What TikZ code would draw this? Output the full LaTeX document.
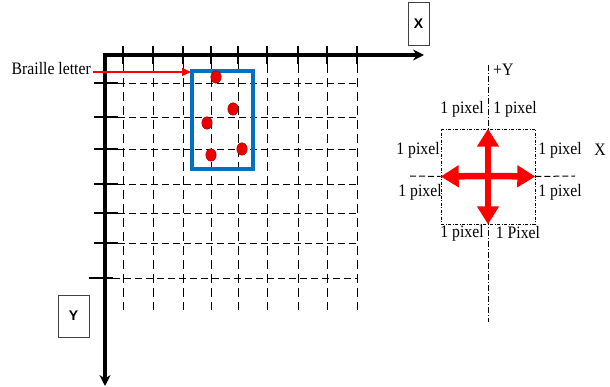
\documentclass[tikz,border=0pt]{standalone}
\usepackage{fontspec}
\setmainfont{Liberation Serif}
\newfontfamily\lblfont{Liberation Serif}[FakeStretch=0.9]
\newfontfamily\axfont{Liberation Sans}
\usetikzlibrary{arrows.meta,shapes.geometric}
\definecolor{boxblue}{RGB}{0,112,192}
\definecolor{dotred}{RGB}{235,0,0}
\begin{document}
\begin{tikzpicture}[x=1pt,y=-1pt,
  axisline/.style={line width=3.4pt, line join=miter},
  tickmark/.style={line width=2.8pt},
  vgrid/.style={line width=0.9pt, dash pattern=on 9pt off 5pt},
  hgrid/.style={line width=0.9pt, dash pattern=on 7pt off 4pt},
  lbl/.style={font=\lblfont\fontsize{17.5}{17.5}\selectfont, inner sep=0pt},
  axbox/.style={draw=black!75, line width=0.8pt, inner sep=0pt, font=\axfont\bfseries\fontsize{14}{14}\selectfont},
  dot/.style={ellipse, fill=dotred, draw=red!60!black, line width=0.4pt, minimum width=10.5pt, minimum height=12.5pt, inner sep=0pt},
  dashdotline/.style={line width=0.8pt, dash pattern=on 6pt off 2pt on 1pt off 2pt},
  finebox/.style={draw, line width=0.6pt, dash pattern=on 3pt off 1.5pt on 1pt off 1.5pt, inner sep=0pt},
  hdash/.style={line width=1pt, dash pattern=on 6pt off 3pt},
  crossarrow/.style={red, line width=6.5pt, -{Triangle[length=18pt,width=21pt]}}
]
\useasboundingbox (0,0) rectangle (610,387);

% grid
\foreach \x in {123,153,183,211,238,267,298,327,357}{
  \draw[vgrid] (\x,64) -- (\x,310);
  \draw[tickmark] (\x,46) -- (\x,64);
}
\foreach \y in {83,117,149,184,213,243}{
  \draw[hgrid] (118,\y) -- (357,\y);
  \draw[tickmark] (94,\y) -- (118,\y);
}
\draw[hgrid] (113,278) -- (357,278);
\draw[tickmark] (89,278) -- (113,278);

% axes
\coordinate (O) at (105,55);
\coordinate (xend) at (424,55);
\coordinate (yend) at (105,386);
\draw[axisline, {Stealth[length=11pt,width=11pt]}-{Stealth[length=11pt,width=11pt]}] (yend) -- (O) -- (xend);

\node[axbox, minimum width=21pt, minimum height=43pt] (xbox) at (418.5,23.5) {X};
\node[axbox, minimum width=31pt, minimum height=42pt] (ybox) at (73.5,316) {Y};

% braille letter
\node[draw=boxblue, line width=3.2pt, minimum width=61pt, minimum height=98pt, inner sep=0pt] (bbox) at (222.5,120) {};
\node[dot] (d1) at (216,77) {};
\node[dot] (d2) at (233,109) {};
\node[dot] (d3) at (207,123) {};
\node[dot] (d4) at (211,155) {};
\node[dot] (d5) at (242,149) {};
\node[lbl, anchor=base east] (blabel) at (91,75) {Braille letter};
\coordinate (bstart) at (93,72);
\coordinate (bend) at (191,72);
\draw[red, line width=1.2pt, -{Triangle[length=9pt,width=8pt]}] (bstart) -- (bend);

% pixel neighbourhood
\coordinate (C) at (488,176);
\coordinate (vtop) at (488,65);
\coordinate (vbot) at (488,322);
\draw[dashdotline] (vtop) -- (vbot);
\node[finebox, minimum width=94pt, minimum height=95pt] (sq) at (488,176.5) {};
\coordinate (hl1) at (410,176);
\coordinate (hr2) at (575,176);
\draw[hdash] (hl1) -- (sq.west);
\draw[hdash] (sq.east) -- (hr2);
\draw[crossarrow] (C) -- (sq.north);
\draw[crossarrow] (C) -- (sq.south);
\draw[crossarrow] (C) -- (sq.west);
\draw[crossarrow] (C) -- (sq.east);

\node[lbl, anchor=west] (py) at (493,70) {+Y};
\node[lbl] (t1) at (462,109) {1 pixel};
\node[lbl] (t2) at (515,109) {1 pixel};
\node[lbl] (t3) at (418,150) {1 pixel};
\node[lbl] (t4) at (560,150) {1 pixel};
\node[lbl] (px) at (600,150) {X};
\node[lbl] (t5) at (420,192) {1 pixel};
\node[lbl] (t6) at (560,192) {1 pixel};
\node[lbl] (t7) at (462,233) {1 pixel};
\node[lbl] (t8) at (518,233) {1 Pixel};
\end{tikzpicture}
\end{document}
